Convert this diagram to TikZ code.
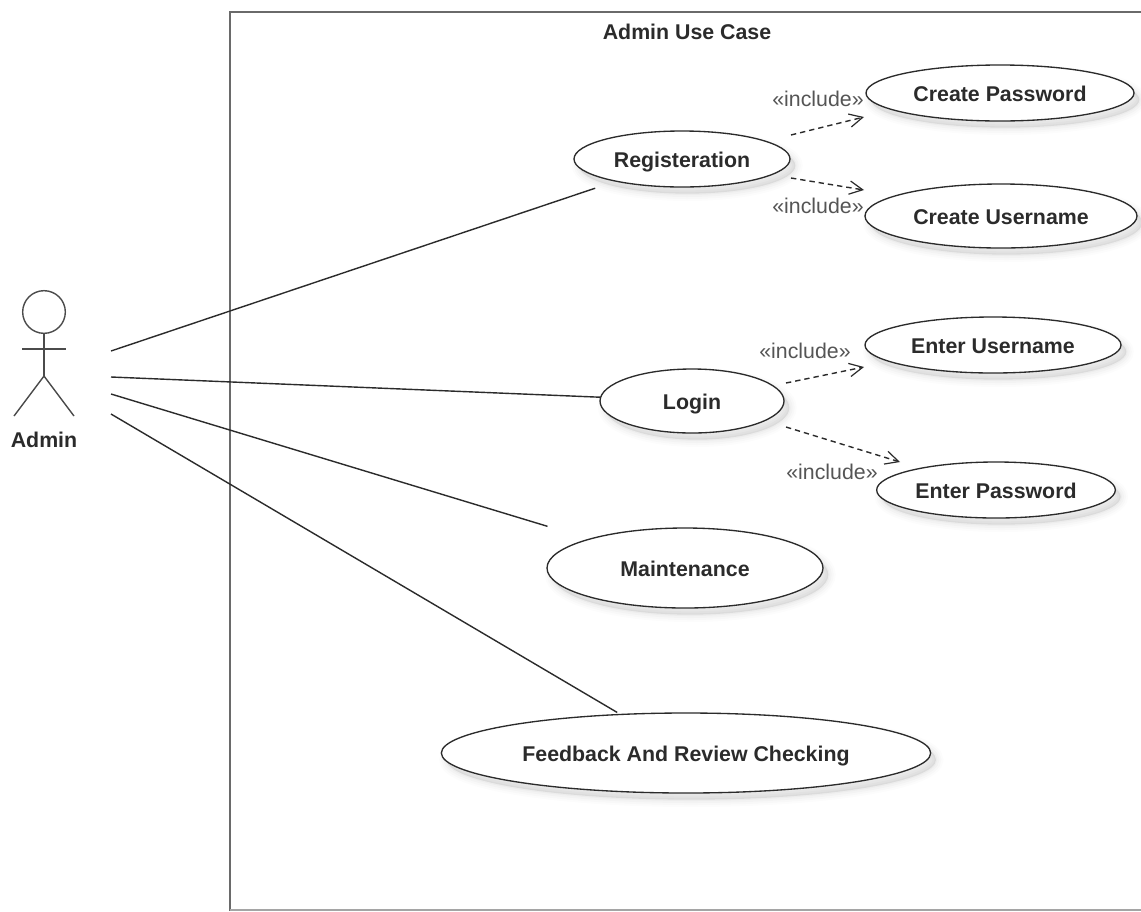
\documentclass[tikz,border=0pt]{standalone}
\usepackage{fontspec}
\setmainfont{Liberation Sans}
\usetikzlibrary{shapes.geometric,arrows.meta}
\definecolor{inkc}{HTML}{2B2B2B}
\definecolor{framec}{HTML}{6A6A6A}
\definecolor{inclc}{HTML}{555555}
\tikzset{
  softshadow/.style={
    preaction={fill=black,draw=black,opacity=.012,line width=11pt,transform canvas={shift={(4pt,-5pt)}}},
    preaction={fill=black,draw=black,opacity=.016,line width=8pt,transform canvas={shift={(4pt,-5pt)}}},
    preaction={fill=black,draw=black,opacity=.02,line width=5pt,transform canvas={shift={(4pt,-5pt)}}},
    preaction={fill=black,draw=black,opacity=.025,line width=2pt,transform canvas={shift={(4pt,-5pt)}}}},
  usecase/.style={ellipse,softshadow,draw=inkc,fill=white,line width=1pt,inner sep=0pt,outer sep=0pt,
    font=\bfseries\fontsize{16}{18}\selectfont,text=inkc,text height=12pt,text depth=0pt},
  assoc/.style={draw=inkc,line width=1.05pt},
  incl/.style={draw=inkc,line width=1.05pt,dash pattern=on 4pt off 3pt,-{Straight Barb[length=10pt,width=10pt,line width=.9pt]}},
  incltext/.style={font=\fontsize{16}{18}\selectfont,text=inclc,inner sep=0pt},
  actorline/.style={draw=inkc!85,line width=1.05pt},
  titletext/.style={font=\bfseries\fontsize{16}{18}\selectfont,text=inkc,inner sep=0pt}
}
\begin{document}
\begin{tikzpicture}[x=.75pt,y=-.75pt]
\useasboundingbox (0,0) rectangle (1141,911);
\fill[white] (0,0) rectangle (1141,911);
% boundary
\draw[framec,line width=1.7pt] (230,911) -- (230,12) -- (1141,12);
\draw[framec!60,line width=1pt] (230,910) -- (1141,910);
\node[titletext] (title) at (687,32) {Admin Use Case};
% use cases
\node[usecase,minimum width=162pt,minimum height=42pt] (reg) at (682,159) {Registeration};
\node[usecase,minimum width=201pt,minimum height=42pt] (cp) at (1000,93) {Create Password};
\node[usecase,minimum width=204pt,minimum height=48pt] (cu) at (1001,216) {Create Username};
\node[usecase,minimum width=192pt,minimum height=42pt] (eu) at (993,345) {Enter Username};
\node[usecase,minimum width=138pt,minimum height=48pt] (login) at (692,401) {Login};
\node[usecase,minimum width=179pt,minimum height=42pt] (ep) at (996,490) {Enter Password};
\node[usecase,minimum width=207pt,minimum height=60pt] (maint) at (685,568) {Maintenance};
\node[usecase,minimum width=367pt,minimum height=60pt] (fb) at (686,753) {Feedback And Review Checking};
% actor
\node[circle,actorline,minimum size=32pt,inner sep=0pt,outer sep=0pt] (head) at (44,312) {};
\coordinate (hip) at (44,376);
\coordinate (armL) at (22,349);
\coordinate (armR) at (66,349);
\coordinate (legL) at (14,416);
\coordinate (legR) at (74,416);
\draw[actorline] (head.south) -- (hip);
\draw[actorline] (armL) -- (armR);
\draw[actorline] (legL) -- (hip) -- (legR);
\node[titletext] (admin) at (44,440) {Admin};
% actor ends of the associations
\coordinate (a1) at (111,351);
\coordinate (a2) at (111,377);
\coordinate (a3) at (111,394);
\coordinate (a4) at (111,414);
\draw[assoc,shorten >=16.5pt] (a1) -- (reg);
\draw[assoc] (a2) -- (login);
\draw[assoc,shorten >=33pt] (a3) -- (maint);
\draw[assoc,shorten >=3pt] (a4) -- (fb);
% includes
\draw[incl] ([shift={(109,-24)}]reg.center) -- ([shift={(-136,24)}]cp.center);
\draw[incl] ([shift={(109,19)}]reg.center) -- ([shift={(-137,-26)}]cu.center);
\draw[incl] ([shift={(94,-18)}]login.center) -- ([shift={(-129,22)}]eu.center);
\draw[incl] ([shift={(94,26)}]login.center) -- ([shift={(-96,-28)}]ep.center);
\node[incltext] (i1) at (818,99) {«include»};
\node[incltext] (i2) at (818,206) {«include»};
\node[incltext] (i3) at (805,351) {«include»};
\node[incltext] (i4) at (832,472) {«include»};
\end{tikzpicture}
\end{document}
